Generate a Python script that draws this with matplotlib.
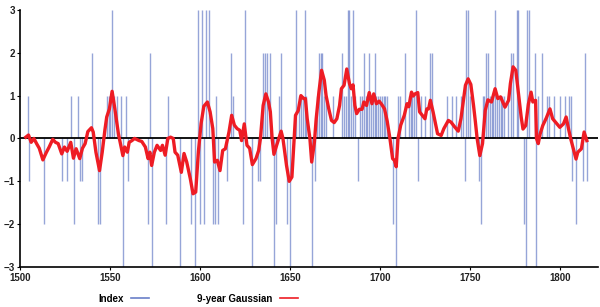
import matplotlib
matplotlib.use("Agg")
import matplotlib.pyplot as plt
from matplotlib.lines import Line2D

# yearly index values (only years with a non-zero bar)
idx_years = [1504, 1505, 1513, 1523, 1526, 1528, 1530, 1532, 1533, 1534, 1540, 1543, 1544,
             1548, 1549, 1550, 1551, 1552, 1554, 1556, 1557, 1559, 1560, 1571, 1572, 1573,
             1581, 1582, 1589, 1595, 1597, 1599, 1600, 1601, 1602, 1603, 1605, 1607, 1608,
             1609, 1610, 1615, 1617, 1618, 1624, 1625, 1629, 1632, 1633, 1635, 1636, 1637,
             1639, 1641, 1642, 1644, 1645, 1648, 1650, 1653, 1655, 1656, 1657, 1658, 1659,
             1662, 1664, 1665, 1666, 1667, 1668, 1669, 1670, 1674, 1679, 1680, 1681, 1682,
             1683, 1684, 1685, 1686, 1688, 1689, 1690, 1691, 1692, 1693, 1694, 1695, 1696,
             1697, 1698, 1699, 1700, 1701, 1702, 1703, 1704, 1707, 1709, 1710, 1711, 1714,
             1716, 1717, 1718, 1719, 1720, 1721, 1723, 1725, 1728, 1729, 1737, 1740, 1742,
             1745, 1746, 1747, 1748, 1749, 1750, 1755, 1756, 1757, 1758, 1759, 1760, 1761,
             1762, 1763, 1764, 1765, 1766, 1767, 1768, 1769, 1771, 1773, 1774, 1776, 1777,
             1780, 1781, 1782, 1783, 1786, 1787, 1788, 1790, 1793, 1794, 1797, 1800, 1803,
             1805, 1806, 1807, 1809, 1813, 1814, 1815]
idx_vals = [1, -1, -2, -1, -1, 1, -2, 1, -1, -1, 2, -2, -2,
            1, 1, 1, 3, 1, 1, 1, -3, 1, -1, -2, 2, -3,
            -2, 1, -3, -2, -3, 3, -2, 3, -2, 3, 3, -2, -2,
            1, -2, -1, 2, 1, -2, 3, -3, -1, -1, 2, 2, 2,
            2, -3, -2, 1, 2, -2, -3, 3, 1, 1, 1, 3, 1,
            -3, -1, 1, 2, 2, 2, 1, 1, 1, 2, 1, 1, 3,
            3, 1, 3, 1, -1, 1, 1, 2, 1, 1, 2, 1, 1,
            2, 1, 1, 1, 1, 1, 1, 1, -2, -3, 1, 1, 2,
            1, 1, 1, 1, 3, -1, 1, 1, 2, 2, 1, 1, 1,
            1, 1, -1, 3, 3, 1, -1, -2, 1, 1, 2, 2, 1,
            1, 1, 3, 1, 1, 1, 1, 1, 1, 2, 2, 3, 3,
            -2, -3, 3, 3, 2, -3, 1, 2, 1, 1, 1, 1, 1,
            1, 1, -1, -2, -1, 2, -1]

# 9-year Gaussian curve
red_years = [1503, 1504.5, 1506, 1507.5, 1509, 1510.5, 1512.5, 1514.5, 1516, 1518, 1519.5, 1521,
             1523, 1524.5, 1526, 1528, 1529.5, 1531, 1533, 1534.5, 1536, 1537.5, 1539.5, 1540.5,
             1542, 1544, 1545.5, 1547, 1548, 1549.5, 1551, 1552.5, 1554.5, 1557, 1558, 1559.5,
             1560.5, 1562, 1563.5, 1566, 1567.5, 1569.5, 1571, 1572, 1573, 1574.5, 1576, 1578,
             1579, 1580.5, 1582, 1583.5, 1585, 1586, 1587.5, 1589.5, 1591, 1592.5, 1594.5, 1596,
             1597.5, 1599, 1600.5, 1602, 1604, 1605.5, 1607, 1608, 1609.5, 1611, 1612.5, 1614,
             1616, 1617.5, 1619, 1620.5, 1622, 1623, 1624.5, 1626, 1627.5, 1629, 1631, 1632.5,
             1633.5, 1635, 1636.5, 1638, 1639, 1640, 1641, 1642.5, 1645, 1646, 1648, 1649.5,
             1651, 1652, 1653, 1654.5, 1656, 1657.5, 1658.5, 1659.5, 1661, 1662, 1663.5, 1664.5,
             1666, 1667.5, 1669, 1670, 1671.5, 1673, 1674.5, 1676, 1677.5, 1678.5, 1680, 1681.5,
             1683, 1684, 1685, 1686, 1687, 1688.5, 1690, 1691, 1692.5, 1694, 1695.5, 1696.5,
             1698, 1699.5, 1701, 1702.5, 1704, 1705.5, 1707, 1708, 1709, 1710, 1711.5, 1713.5,
             1715, 1716, 1717.5, 1718.5, 1719.5, 1721, 1722, 1723.5, 1725, 1726, 1727, 1728,
             1729.5, 1731, 1732, 1734, 1735.5, 1738, 1739.5, 1741.5, 1743.5, 1745, 1746, 1747.5,
             1749, 1750.5, 1752, 1753, 1754, 1755.5, 1757, 1758.5, 1760, 1762, 1764, 1765.5,
             1767, 1769.5, 1771.5, 1772.5, 1774, 1775.5, 1777, 1778.5, 1779.5, 1781, 1782.5, 1784,
             1785, 1786.5, 1787, 1788, 1789, 1790.5, 1792.5, 1794.5, 1796, 1798, 1800, 1802,
             1803.5, 1805, 1806, 1807.5, 1809, 1810, 1812, 1813.5, 1815]
red_vals = [0.03, 0.08, -0.09, 0.0, -0.12, -0.23, -0.5, -0.32, -0.2, -0.02, -0.09, -0.12,
            -0.36, -0.2, -0.3, -0.09, -0.46, -0.24, -0.47, -0.23, -0.12, 0.16, 0.25, 0.15,
            -0.32, -0.75, -0.32, 0.2, 0.5, 0.69, 1.1, 0.7, 0.11, -0.4, -0.2, -0.32,
            -0.09, -0.05, 0.0, -0.05, -0.07, -0.2, -0.47, -0.32, -0.63, -0.32, -0.16, -0.28,
            -0.16, -0.39, 0.0, 0.03, 0.0, -0.32, -0.39, -0.79, -0.35, -0.55, -0.94, -1.29,
            -1.25, -0.3, 0.35, 0.75, 0.85, 0.62, 0.23, -0.55, -0.51, -0.75, -0.28, -0.24,
            0.15, 0.54, 0.31, 0.23, 0.19, -0.05, 0.34, -0.16, -0.23, -0.61, -0.47, -0.28,
            0.0, 0.77, 1.04, 0.85, 0.62, 0.0, -0.37, -0.16, 0.17, 0.0, -0.63, -1.0,
            -0.9, -0.16, 0.54, 0.65, 1.0, 0.93, 0.93, 0.46, 0.0, -0.55, -0.09, 0.46,
            1.08, 1.59, 1.36, 1.0, 0.69, 0.42, 0.37, 0.46, 0.77, 1.16, 1.24, 1.62,
            1.28, 1.16, 1.25, 0.77, 0.58, 0.68, 0.68, 0.85, 0.77, 1.07, 0.81, 1.04,
            0.81, 0.87, 0.79, 0.69, 0.4, 0.0, -0.47, -0.51, -0.66, 0.0, 0.31, 0.54,
            0.81, 0.74, 1.08, 0.99, 1.04, 1.07, 0.62, 0.54, 0.46, 0.69, 0.69, 0.89,
            0.62, 0.31, 0.11, 0.07, 0.23, 0.42, 0.38, 0.27, 0.17, 0.46, 0.77, 1.24,
            1.39, 1.26, 0.77, 0.4, 0.0, -0.4, -0.12, 0.65, 0.9, 0.85, 1.16, 0.93,
            0.97, 0.73, 0.89, 1.28, 1.67, 1.59, 1.04, 0.5, 0.22, 0.3, 0.8, 1.08,
            0.85, 0.89, 0.0, -0.12, 0.1, 0.3, 0.48, 0.69, 0.46, 0.36, 0.26, 0.34,
            0.5, 0.19, 0.0, -0.24, -0.48, -0.32, -0.24, 0.15, -0.05]

x_ticks = [1500, 1550, 1600, 1650, 1700, 1750, 1800]
y_ticks = [-3, -2, -1, 0, 1, 2, 3]

blue = "#6a7fc8"
red = "#ee1c24"

fig = plt.figure(figsize=(6, 3.07), dpi=100)
ax = fig.add_axes([0.034, 0.13, 0.962, 0.838])

ax.vlines(idx_years, 0, idx_vals, color=blue, lw=1.0, alpha=0.7, zorder=2)
ax.axhline(0, color="black", lw=1.3, zorder=3)
ax.plot(red_years, red_vals, color=red, lw=2.4, solid_joinstyle="round", zorder=4)

ax.set_xlim(1500, 1821)
ax.set_ylim(-3, 3)
ax.set_xticks(x_ticks)
ax.set_yticks(y_ticks)
for lab in ax.get_xticklabels() + ax.get_yticklabels():
    lab.set_fontfamily("Liberation Sans")
    lab.set_fontweight("bold")
    lab.set_fontsize(7)
    lab.set_color("#222222")
ax.tick_params(axis="both", length=2, width=0.8, pad=2)
ax.spines["top"].set_visible(False)
ax.spines["right"].set_visible(False)
ax.spines["left"].set_linewidth(1.2)
ax.spines["bottom"].set_linewidth(1.2)

handles = [Line2D([], [], color=blue, lw=1.2), Line2D([], [], color=red, lw=1.2)]
fig.legend(handles, ["Index", "9-year Gaussian"], loc="center", bbox_to_anchor=(0.33, 0.027),
           ncol=2, frameon=False, markerfirst=False, handlelength=1.8, columnspacing=5,
           prop={"family": "Liberation Sans", "weight": "bold", "size": 7})

fig.savefig("out.png", dpi=100)
